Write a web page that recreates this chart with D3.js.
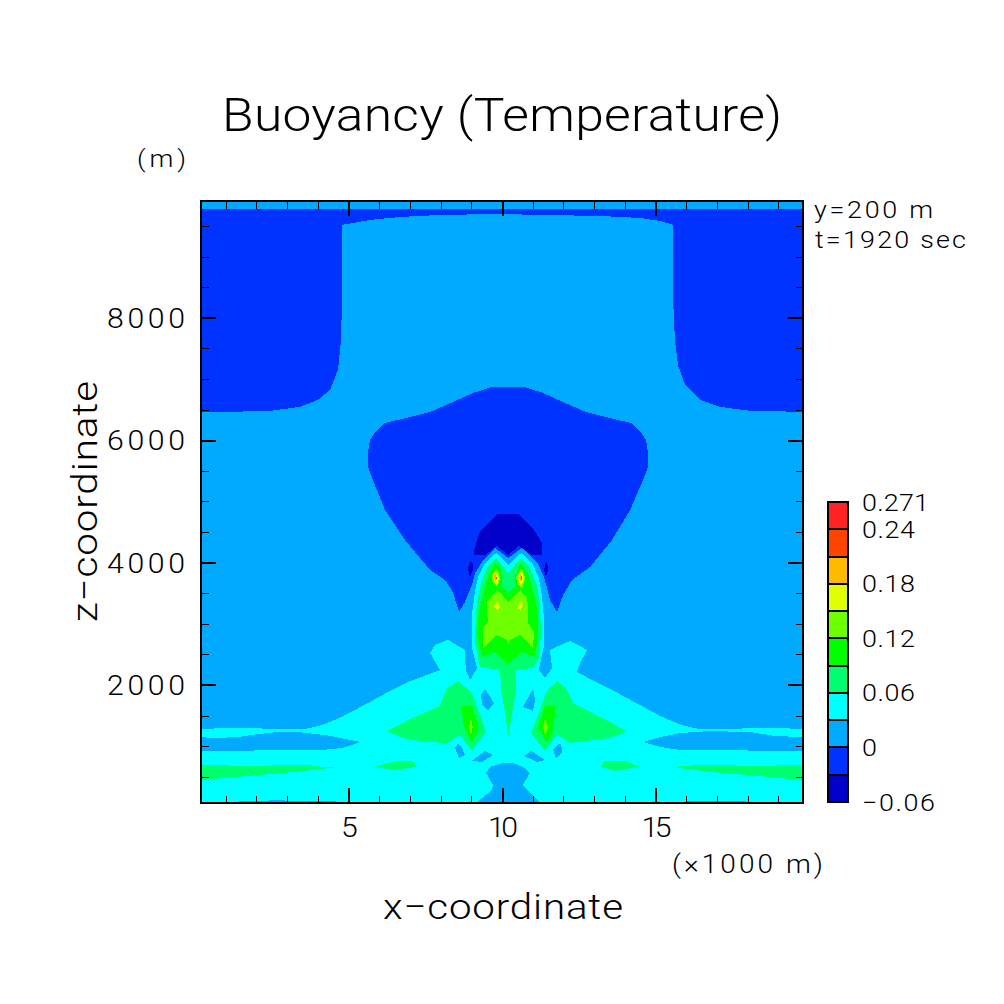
<!DOCTYPE html>
<html><head><meta charset="utf-8">
<script src="https://cdn.jsdelivr.net/npm/d3@7"></script>
<style>html,body{margin:0;padding:0;background:#fff}svg{display:block}
text{font-family:Roboto,"Liberation Sans",sans-serif;font-weight:300;fill:#000}</style>
</head><body><svg id="c" width="1004" height="1004"></svg>
<script>
// Contour levels and the colours of the bands between them
const levels = [-0.06,-0.03,0,0.03,0.06,0.09,0.12,0.15,0.18,0.21,0.24,0.271];
const levelLabels = {"-0.06":"\u22120.06","0":"0","0.06":"0.06","0.12":"0.12","0.18":"0.18","0.24":"0.24","0.271":"0.271"};
const bandColors = ["#0000C8","#0033FF","#00AAFF","#00FFFF","#00FF6E","#00FF00","#6EFF00","#E0FF00","#FFBB00","#FF4400","#FF2222"];
const xTicks = [5,10,15];
const zTicks = [2000,4000,6000,8000];
const xMinor = d3.range(1,20);
const zMinor = d3.range(500,9901,500);

// Filled contour outlines: [x (km), z (m)]
const upperNegative = [[0.2,9779],[19.8,9779],[19.8,6464],[18.08,6480],[17.10,6545],[16.45,6659],[15.96,6903],[15.73,7229],[15.63,7641],[15.57,8296],[15.57,9519],[15.15,9584],[14.49,9633],[13.19,9666],[11.24,9682],[9.94,9698],[7.98,9682],[6.68,9649],[5.70,9600],[4.79,9519],[4.79,8296],[4.76,7641],[4.66,7152],[4.40,6822],[4.01,6659],[3.42,6545],[2.45,6480],[1.14,6464],[0.2,6464]];
const bowl = [[9.67,6869],[10.75,6869],[11.34,6771],[11.99,6624],[12.73,6461],[13.38,6379],[14.20,6281],[14.52,6134],[14.69,6003],[14.75,5807],[14.75,5562],[14.62,5382],[14.17,4860],[13.58,4368],[12.87,3928],[12.28,3717],[11.99,3469],[11.79,3192],[11.56,3388],[11.47,3584],[11.34,3797],[11.14,4009],[10.65,4238],[10.20,4075],[9.77,4238],[9.35,4009],[9.12,3829],[9.02,3633],[8.79,3355],[8.60,3192],[8.40,3518],[8.14,3717],[7.66,3879],[6.84,4368],[6.19,4860],[5.77,5382],[5.64,5562],[5.64,5807],[5.70,6003],[5.87,6134],[6.19,6281],[7.00,6379],[7.66,6461],[8.40,6624],[9.05,6771]];
const cap = [[9.84,4795],[10.55,4795],[11.01,4563],[11.30,4319],[11.30,4124],[10.98,4124],[10.55,4270],[10.20,4124],[9.84,4270],[9.45,4124],[9.09,4124],[9.09,4205],[9.28,4498]];
const ovalL = [[8.96,4026],[8.89,3896],[8.96,3766],[9.05,3879],[9.05,3994]];
const ovalR = [[11.43,4026],[11.37,3879],[11.43,3766],[11.51,3896],[11.47,3994]];
const lowerCyan = [[0.2,1279],[0.98,1295],[3.59,1279],[4.14,1344],[4.79,1478],[5.64,1706],[6.42,1918],[6.94,2048],[7.98,2243],[7.66,2524],[7.82,2654],[8.24,2736],[8.79,2573],[8.82,2243],[8.96,2080],[9.19,2277],[9.02,2603],[9.02,3143],[9.12,3519],[9.22,3764],[9.45,3993],[9.81,4156],[10.20,3960],[10.62,4156],[10.98,3993],[11.20,3748],[11.30,3470],[11.37,3061],[11.37,2652],[11.20,2244],[11.40,2113],[11.63,2276],[11.56,2573],[12.21,2719],[12.77,2573],[12.54,2357],[12.44,2211],[13.06,2048],[13.58,1918],[14.36,1706],[15.21,1478],[15.86,1344],[16.41,1279],[19.02,1295],[19.8,1279],[19.8,70],[0.2,70]];
const blueBandL = [[0.2,1148],[0.65,1132],[1.40,1148],[2.06,1197],[2.71,1230],[3.36,1230],[4.24,1181],[4.89,1116],[5.41,1067],[4.79,969],[4.14,937],[0.2,921]];
const blueBandR = [[14.59,1067],[15.15,1148],[15.80,1214],[16.77,1246],[18.08,1230],[18.89,1165],[19.8,1148],[19.8,921],[15.80,937],[15.15,986]];
const blueBase = [[10.03,725],[9.61,660],[9.48,562],[9.71,364],[9.67,282],[9.15,70],[11.27,70],[10.68,364],[10.91,562],[10.68,660],[10.36,725]];
const pocket1 = [[9.45,1934],[9.74,1706],[9.54,1576],[9.35,1673],[9.32,1836]];
const pocket2 = [[11.01,1934],[10.68,1641],[11.01,1576],[11.08,1755]];
const pocket3 = [[8.57,1051],[8.47,969],[8.60,807],[8.79,855],[8.70,969]];
const pocket4 = [[11.89,1051],[11.66,937],[11.76,807],[11.95,888],[11.95,969]];
const pocket5 = [[9.45,921],[9.02,758],[9.35,742],[9.71,855]];
const pocket6 = [[10.95,921],[10.72,839],[11.14,742],[11.40,774]];
const stripL = [[1.40,70],[1.47,104],[2.61,112],[4.56,104],[4.63,70]];
const stripR = [[15.80,70],[16.12,104],[17.91,104],[18.01,70]];
const lobeL = [[6.26,1246],[7.07,1458],[7.98,1657],[8.21,1950],[8.57,2064],[9.02,1869],[9.48,1246],[9.02,921],[8.63,1181],[8.21,1051],[7.59,1067],[6.75,1132]];
const lobeR = [[11.82,2064],[11.47,1918],[10.95,1214],[11.40,921],[11.79,1181],[12.21,1051],[13.52,1132],[14.07,1246],[13.52,1393],[12.31,1706],[12.12,1918]];
const lowBand1 = [[0.2,693],[1.73,676],[3.59,693],[4.17,660],[4.56,652],[4.17,628],[3.26,579],[2.19,530],[0.2,446]];
const lowBand2 = [[5.80,660],[6.61,758],[7.10,758],[7.20,660],[6.52,611]];
const lowBand3 = [[13.22,660],[13.32,758],[14.01,758],[14.49,660],[13.68,595]];
const lowBand4 = [[15.54,660],[16.45,693],[18.40,676],[19.8,693],[19.8,446],[17.91,530],[16.77,579]];
const plumeOuter = [[9.81,4075],[10.20,3829],[10.62,4075],[10.91,3911],[11.14,3633],[11.24,3306],[11.27,2816],[11.20,2440],[11.01,2277],[10.42,2244],[10.46,1917],[10.33,1541],[10.20,1149],[10.10,1541],[9.97,1917],[9.94,2244],[9.28,2293],[9.12,2701],[9.15,3143],[9.19,3355],[9.32,3682],[9.51,3911]];
const plumeGreen = [[9.77,3993],[9.58,3829],[9.38,3470],[9.28,3257],[9.22,3061],[9.19,2816],[9.35,2456],[9.77,2538],[10.20,2342],[10.65,2538],[11.04,2456],[11.17,2701],[11.17,3061],[11.14,3257],[11.01,3519],[10.85,3829],[10.59,3993],[10.42,3764],[10.42,3601],[10.20,3502],[10.00,3601],[10.00,3748],[9.94,3911]];
const plumeLime = [[10.20,3355],[9.87,3551],[9.68,3470],[9.51,3355],[9.51,3257],[9.54,3028],[9.38,2930],[9.38,2603],[9.84,2816],[10.17,2734],[10.20,2652],[10.26,2734],[10.59,2816],[11.01,2603],[11.04,2865],[10.85,3012],[10.85,3257],[10.82,3421],[10.59,3551]];
const limeTopL = [[9.81,3911],[9.68,3797],[9.68,3682],[9.84,3601],[9.94,3715],[9.90,3829]];
const limeTopR = [[10.62,3911],[10.46,3764],[10.52,3633],[10.65,3584],[10.75,3715],[10.72,3829]];
const yellowL = [[9.77,3878],[9.71,3764],[9.77,3666],[9.84,3617],[9.90,3748]];
const yellowR = [[10.62,3862],[10.52,3748],[10.59,3633],[10.68,3666],[10.72,3764]];
const yellowSmallL = [[9.84,3372],[9.74,3290],[9.84,3224],[9.94,3274]];
const yellowSmallR = [[10.59,3372],[10.49,3257],[10.62,3224],[10.68,3323]];
const orangeL = [[9.77,3829],[9.74,3748],[9.81,3682],[9.84,3748]];
const orangeR = [[10.62,3829],[10.55,3748],[10.62,3682],[10.65,3748]];
const redL = [[9.81,3797],[9.79,3748],[9.81,3699],[9.83,3748]];
const redR = [[10.62,3798],[10.60,3749],[10.62,3684],[10.65,3749]];
const lobeGreenL = [[8.67,1657],[9.02,1657],[9.25,1295],[9.02,1051],[8.76,1311]];
const lobeGreenR = [[11.40,1657],[11.73,1657],[11.69,1311],[11.47,1051],[11.17,1295]];
const lobeLimeL = [[8.99,1458],[8.93,1311],[8.99,1181],[9.05,1311]];
const lobeLimeR = [[11.40,1458],[11.34,1311],[11.40,1181],[11.50,1295]];

// painter's order: [band index, outline]
const contourLayers = [
 [1,upperNegative],[1,bowl],[0,cap],[0,ovalL],[0,ovalR],
 [3,lowerCyan],
 [2,blueBandL],[2,blueBandR],[2,blueBase],[2,pocket1],[2,pocket2],[2,pocket3],[2,pocket4],[2,pocket5],[2,pocket6],[2,stripL],[2,stripR],
 [4,lobeL],[4,lobeR],[4,lowBand1],[4,lowBand2],[4,lowBand3],[4,lowBand4],[4,plumeOuter],
 [5,plumeGreen],[5,lobeGreenL],[5,lobeGreenR],
 [6,plumeLime],[6,limeTopL],[6,limeTopR],[6,lobeLimeL],[6,lobeLimeR],
 [7,yellowL],[7,yellowR],[7,yellowSmallL],[7,yellowSmallR],
 [8,orangeL],[8,orangeR],[9,redL],[9,redR]
];

const svg = d3.select("#c");
const L=201,R=803,T=201,B=803;
const x = d3.scaleLinear().domain([0.2,19.8]).range([L,R]);
const z = d3.scaleLinear().domain([70,9910]).range([B,T]);
const line = d3.line().x(d=>x(d[0])).y(d=>z(d[1])).curve(d3.curveLinearClosed);

svg.append("clipPath").attr("id","p").append("rect").attr("x",L).attr("y",T).attr("width",R-L).attr("height",B-T);
const plot = svg.append("g").attr("clip-path","url(#p)").attr("shape-rendering","crispEdges");
plot.append("rect").attr("x",L).attr("y",T).attr("width",R-L).attr("height",B-T).attr("fill",bandColors[2]);
plot.selectAll("path").data(contourLayers).join("path").attr("d",d=>line(d[1])).attr("fill",d=>bandColors[d[0]]);

// axes: ticks point inwards on all four sides
function ticks(axisFn, scale, values, len, w, tx){
  const g = svg.append("g").attr("transform",tx).attr("shape-rendering","crispEdges")
    .call(axisFn(scale).tickValues(values).tickSize(len).tickFormat(""));
  g.select(".domain").remove();
  g.selectAll("line").attr("stroke","#000").attr("stroke-width",w);
  return g;
}
const bottomT=`translate(0,${B})`, topT=`translate(0,${T})`, leftT=`translate(${L},0)`, rightT=`translate(${R},0)`;
ticks(d3.axisBottom,x,xMinor,-7.5,1,bottomT); ticks(d3.axisTop,x,xMinor,-7.5,1,topT);
ticks(d3.axisLeft,z,zMinor,-7.5,1,leftT); ticks(d3.axisRight,z,zMinor,-7.5,1,rightT);
ticks(d3.axisBottom,x,xTicks,-15,2,bottomT); ticks(d3.axisTop,x,xTicks,-15,2,topT);
ticks(d3.axisLeft,z,zTicks,-15,2,leftT); ticks(d3.axisRight,z,zTicks,-15,2,rightT);
svg.append("rect").attr("x",L).attr("y",T).attr("width",R-L).attr("height",B-T)
  .attr("fill","none").attr("stroke","#000").attr("stroke-width",2).attr("shape-rendering","crispEdges");

// wide, thin glyphs with open spacing, like the plotter's stroke font
const stretch = 1.12;
function label(s,px,py,size,len,opts){
  opts = opts||{};
  const t = svg.append("text").text(s).attr("font-size",size)
    .attr("text-anchor",opts.anchor||"start").attr("font-weight",opts.weight||300)
    .attr("textLength",len/stretch).attr("lengthAdjust","spacing")
    .attr("transform",`translate(${px},${py}) rotate(${opts.rot||0}) scale(${stretch},1)`);
  return t;
}
xTicks.forEach(v=>{ const s=String(v); label(s,x(v)+1,837,27,s.length*15,{anchor:"middle"}); });
zTicks.forEach(v=>{ label(String(v),185,z(v)+10,27,78,{anchor:"end"}); });

label("Buoyancy (Temperature)",222,131,46,560,{weight:100});
label("(m)",137,167,24,49);
label("x\u2212coordinate",383,919,36,240,{weight:100});
label("z\u2212coordinate",97,622,36,241,{rot:-90,weight:100});
label("(\u00d71000 m)",672,873,25,151);
label("y=200 m",814,218,24,119,{weight:100});
label("t=1920 sec",815,248,24,151,{weight:100});

// colour bar
const barX=[828,848];
const cb = d3.scalePoint().domain(levels).range([802,502]);
const bar = svg.append("g").attr("shape-rendering","crispEdges");
bar.selectAll("rect").data(bandColors).join("rect")
  .attr("x",barX[0]).attr("width",barX[1]-barX[0])
  .attr("y",(d,i)=>cb(levels[i+1])).attr("height",cb.step())
  .attr("fill",d=>d).attr("stroke","#000").attr("stroke-width",2);
const labelWidths={"0.271":67,"0.24":53,"0.18":53,"0.12":53,"0.06":53,"0":14,"-0.06":73};
levels.filter(v=>levelLabels[v]!==undefined).forEach(v=>{
  label(levelLabels[v],862,cb(v)+8.5,24,labelWidths[v]);
});
</script></body></html>
